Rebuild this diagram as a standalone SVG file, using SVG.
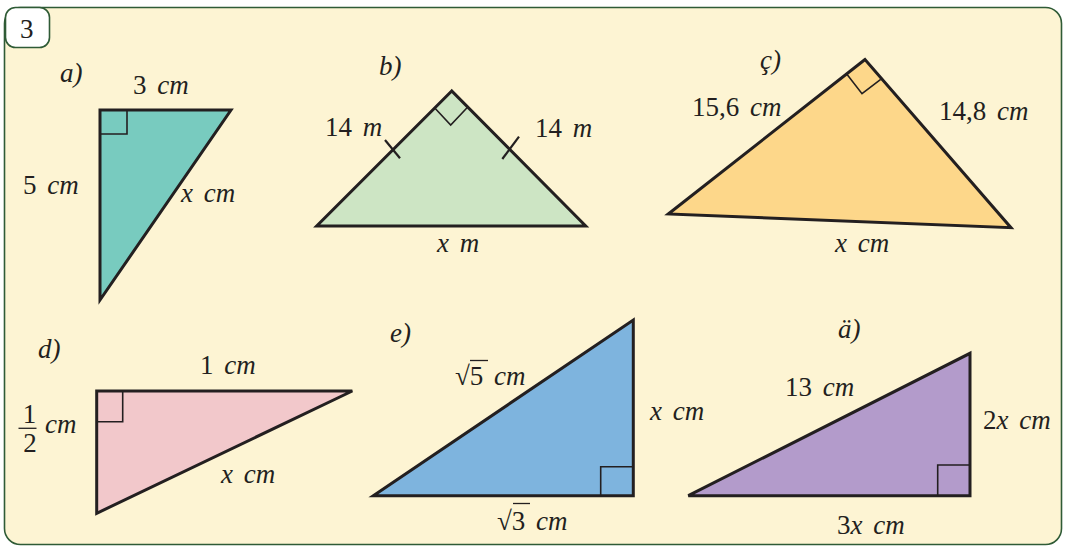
<svg xmlns="http://www.w3.org/2000/svg" width="1065" height="547" viewBox="0 0 1065 547">
<style>
text{font-family:"Liberation Serif","DejaVu Serif","Noto Serif",serif;font-size:27px;fill:#231f20;word-spacing:4px}
.i{font-style:italic}
.tri{stroke:#231f20;stroke-width:3;stroke-linejoin:miter}
.ra{fill:none;stroke:#231f20;stroke-width:1.6}
.tk{stroke:#231f20;stroke-width:2.2}
</style>
<rect width="1065" height="547" fill="#ffffff"/>
<g id="panel">
<rect x="4.5" y="7.5" width="1057" height="537" rx="16" fill="#fdf4d3" stroke="#2f5b36" stroke-width="1.6"/>
<rect x="5.5" y="7.5" width="44" height="40" rx="10" fill="#ffffff" stroke="#2f5b36" stroke-width="1.6"/>
<text x="20" y="38">3</text>
</g>
<g id="tri-a">
<polygon class="tri" points="100,110 231,110 100,300" fill="#78cbbf"/>
<polyline class="ra" points="100,134 127,134 127,110"/>
<text x="60" y="82" class="i">a)</text>
<text x="133" y="94">3 <tspan class="i">cm</tspan></text>
<text x="23" y="194">5 <tspan class="i">cm</tspan></text>
<text x="181" y="202" class="i">x cm</text>
</g>
<g id="tri-b">
<polygon class="tri" points="451.7,91 316.7,226 585.7,226" fill="#cde5c4"/>
<polyline class="ra" points="434.3,107.5 450.7,125 467.3,107.5"/>
<line class="tk" x1="385" y1="140" x2="400" y2="158.3"/>
<line class="tk" x1="502.3" y1="159" x2="519" y2="136.7"/>
<text x="379" y="75" class="i">b)</text>
<text x="325" y="136">14 <tspan class="i">m</tspan></text>
<text x="535" y="137">14 <tspan class="i">m</tspan></text>
<text x="437" y="252" class="i">x m</text>
</g>
<g id="tri-c">
<polygon class="tri" points="865,59.5 668.3,214 1011,227.7" fill="#fdd78a"/>
<polyline class="ra" points="846.7,74 862,93.7 880.7,79.3"/>
<text x="760" y="69" class="i">ç)</text>
<text x="692" y="116">15,6 <tspan class="i">cm</tspan></text>
<text x="939" y="120">14,8 <tspan class="i">cm</tspan></text>
<text x="835" y="252" class="i">x cm</text>
</g>
<g id="tri-d">
<polygon class="tri" points="96.7,391 352.3,391 96.7,513.3" fill="#f2c8cb"/>
<polyline class="ra" points="96.7,421.7 122.7,421.7 122.7,391"/>
<text x="38" y="358" class="i">d)</text>
<text x="200" y="374">1 <tspan class="i">cm</tspan></text>
<text x="221" y="483" class="i">x cm</text>
<text x="29.5" y="423" text-anchor="middle">1</text>
<line x1="18.5" y1="428.3" x2="36.5" y2="428.3" stroke="#231f20" stroke-width="1.3"/>
<text x="30" y="452" text-anchor="middle">2</text>
<text x="45" y="433" class="i">cm</text>
</g>
<g id="tri-e">
<polygon class="tri" points="373.3,495.7 633.3,495.7 633.3,320" fill="#7eb4de"/>
<polyline class="ra" points="633.3,466.7 600.7,466.7 600.7,495.7"/>
<text x="390" y="342" class="i">e)</text>
<text x="455" y="385">√5 <tspan class="i">cm</tspan></text>
<line x1="470" y1="360.5" x2="488" y2="360.5" stroke="#231f20" stroke-width="1.3"/>
<text x="650" y="420" class="i">x cm</text>
<text x="497" y="530">√3 <tspan class="i">cm</tspan></text>
<line x1="513" y1="503.5" x2="530" y2="503.5" stroke="#231f20" stroke-width="1.3"/>
</g>
<g id="tri-ae">
<polygon class="tri" points="688.3,495.7 970,495.7 970,353.3" fill="#b39bcb"/>
<polyline class="ra" points="970,465 937.7,465 937.7,495.7"/>
<text x="838" y="338" class="i">ä)</text>
<text x="785" y="396">13 <tspan class="i">cm</tspan></text>
<text x="983" y="429">2<tspan class="i">x cm</tspan></text>
<text x="837" y="534">3<tspan class="i">x cm</tspan></text>
</g>
</svg>
